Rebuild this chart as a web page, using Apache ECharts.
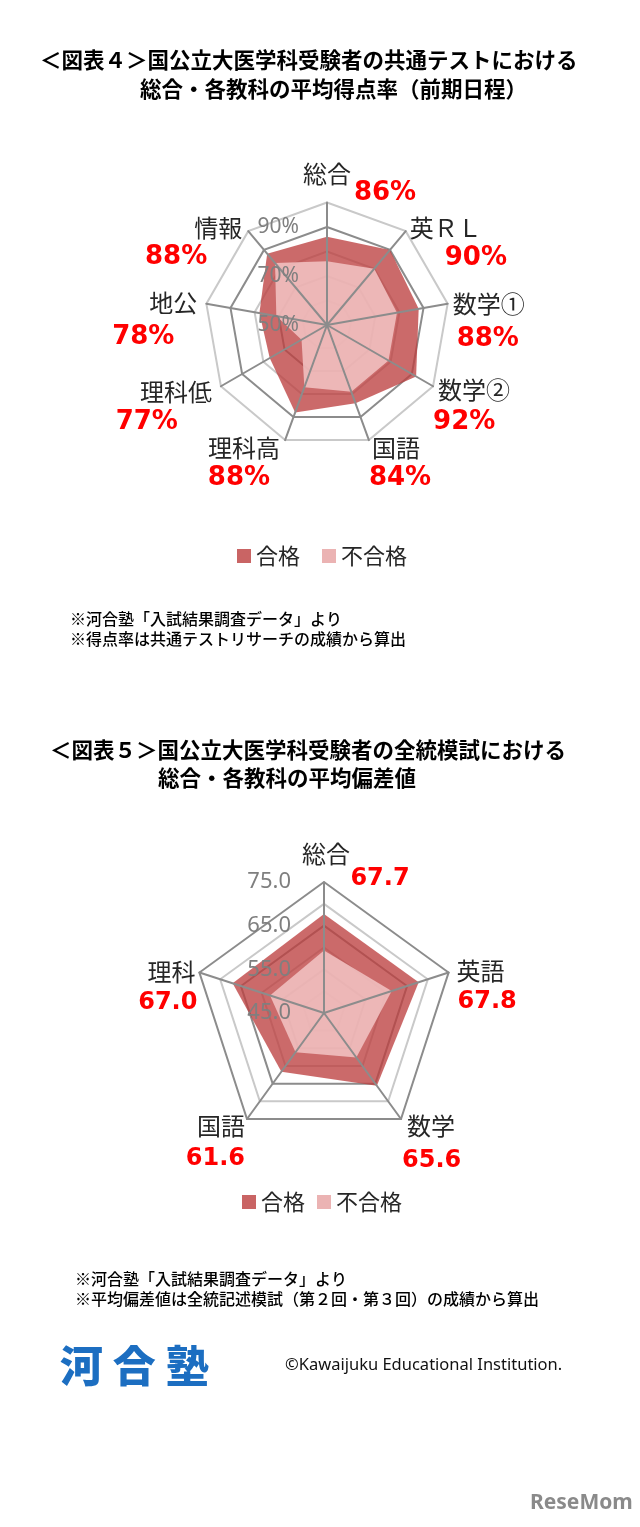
<!DOCTYPE html>
<html><head><meta charset="utf-8">
<script src="https://cdn.jsdelivr.net/npm/echarts@6/dist/echarts.min.js"></script>
<style>html,body{margin:0;padding:0;background:#fff}#c{width:640px;height:1527px}</style>
</head><body><div id="c"></div>
<script>
// ---- data ----
const cats1 = ['総合','英ＲＬ','数学①','数学②','国語','理科高','理科低','地公','情報'];
const pass1 = [86, 90, 88, 92, 84, 88, 77, 78, 88];
const fail1 = [76, 80, 79, 79, 79, 77, 62, 71, 83];
const ticks1 = [50, 70, 90];
const cats2 = ['総合','英語','数学','国語','理科'];
const pass2 = [67.7, 67.8, 65.6, 61.6, 67.0];
const fail2 = [59.3, 61.3, 57.6, 56.1, 58.0];
const ticks2 = [45, 55, 65, 75];
const seriesNames = ['合格','不合格'];

// ---- label layout (style only): [name dx, name dy, value dx, value dy] ----
const lay1 = [[0,16.5,58,5.5],[4,12,39,12],[5,15,9,21],[5,19,0,21],[3,23,0,23],[-5,23,-15,23],[-9,21,-43,21],[-9,14,-32,19],[-6,12,-41,11]];
const lay2 = [[2,17,56,12],[8,13.5,9,14.5],[6,22,1,27],[-2,22,-2,25],[-4,14.5,-2,15.5]];

const CJK = '"Noto Sans CJK JP","Noto Sans",sans-serif';
const darkArea = 'rgba(188,64,64,0.78)';
const lightArea = 'rgba(242,196,196,0.86)';
const darkLeg = '#C96464';
const lightLeg = '#EBB3B3';

function order(n){ const o=[0]; for(let i=n-1;i>=1;i--) o.push(i); return o; }
function pad(align, dx, dy){
  let l=0,r=0;
  if(align==='center'){ if(dx>0) l=2*dx; else r=-2*dx; }
  else if(align==='left'){ if(dx>0) l=dx; }
  else { if(dx<0) r=-dx; }
  const t = dy>0?2*dy:0, b = dy<0?-2*dy:0;
  return [t,r,b,l];
}
function alignOf(k,n){ const th=360*k/n; if(th===0||th===180) return 'center'; return th<180?'left':'right'; }
function buildRich(lay, nFont, vFont){
  const rich={}; const n=lay.length;
  lay.forEach((l,k)=>{
    const a=alignOf(k,n);
    rich['n'+k]={fontSize:nFont,lineHeight:30,color:'#262626',fontFamily:CJK,padding:pad(a,l[0],l[1])};
    rich['v'+k]={fontSize:vFont,lineHeight:30,color:'#FF0000',fontWeight:'bold',fontFamily:'"DejaVu Sans",sans-serif',padding:pad(a,l[2],l[3])};
  });
  return rich;
}

const o1 = order(cats1.length), o2 = order(cats2.length);
const gridDark = '#8c8c8c', gridLight = '#c9c9c9';

function baseRadar(center, radius, cats, ord, min, max, split, fmt, rich){
  return {
    center, radius, startAngle:90, shape:'polygon', splitNumber:split, z:0,
    axisNameGap:0,
    indicator: ord.map(k=>({name:cats[k], min, max})),
    axisName:{show:true, formatter:fmt, rich, color:'#262626'},
    splitLine:{lineStyle:{color:[gridDark,gridLight], width:2}},
    splitArea:{show:false},
    axisLine:{show:false}, axisTick:{show:false}, axisLabel:{show:false}
  };
}
function topRadar(center, radius, n, ord, min, max, split, labelFmt, fs, margin){
  return {
    center, radius, startAngle:90, shape:'polygon', splitNumber:split, z:5,
    indicator: ord.map((k,j)=>j===0?({name:'', min, max, axisLabel:{show:true}}):({name:'', min, max})),
    axisName:{show:false},
    splitLine:{show:false}, splitArea:{show:false},
    axisLine:{show:true, lineStyle:{color:gridDark, width:2}},
    axisTick:{show:false},
    axisLabel:{show:false, formatter:labelFmt, color:'#7f7f7f', fontSize:fs, margin, fontFamily:'"Noto Sans",sans-serif'}
  };
}

const fmt1 = (name)=>{ const k=cats1.indexOf(name); return '{n'+k+'|'+name+'}\n{v'+k+'|'+pass1[k]+'%}'; };
const fmt2 = (name)=>{ const k=cats2.indexOf(name); return '{n'+k+'|'+name+'}\n{v'+k+'|'+pass2[k].toFixed(1)+'}'; };
const lab1 = v => ticks1.indexOf(Math.round(v))>=0 ? Math.round(v)+'%' : '';
const lab2 = v => ticks2.indexOf(Math.round(v))>=0 ? Number(v).toFixed(1) : '';

const titleStyle = {fontSize:21.5, fontWeight:'bold', color:'#000', fontFamily:CJK};
const noteStyle = {fontSize:16, fontWeight:500, color:'#000', fontFamily:CJK};
function T(text, left, top, style){ return {text, left, top, padding:0, textStyle:style}; }

const option = {
  backgroundColor:'#fff',
  animation:false,
  title:[
    T('＜図表４＞国公立大医学科受験者の共通テストにおける', 40, 49, titleStyle),
    T('総合・各教科の平均得点率（前期日程）', 140, 78, titleStyle),
    T('※河合塾「入試結果調査データ」より', 70, 611, noteStyle),
    T('※得点率は共通テストリサーチの成績から算出', 70, 631, noteStyle),
    T('＜図表５＞国公立大医学科受験者の全統模試における', 50, 739, titleStyle),
    T('総合・各教科の平均偏差値', 158, 767, titleStyle),
    T('※河合塾「入試結果調査データ」より', 75, 1271, noteStyle),
    T('※平均偏差値は全統記述模試（第２回・第３回）の成績から算出', 75, 1291, noteStyle),
    T('河 合 塾', 60, 1344, {fontSize:43, fontWeight:900, color:'#1C6EC1', fontFamily:CJK}),
    T('©Kawaijuku Educational Institution.', 285, 1357, {fontSize:16.5, fontWeight:'normal', color:'#111', fontFamily:'"Noto Sans",sans-serif'}),
    T('ReseMom', 530, 1493, {fontSize:21, fontWeight:'bold', color:'#8a8a8a', fontFamily:'"Noto Sans",sans-serif'})
  ],
  legend:[
    {data:seriesNames, left:232, top:540, itemWidth:14, itemHeight:14, itemGap:22, icon:'rect', selectedMode:false,
     textStyle:{fontSize:22, color:'#262626', fontFamily:CJK}},
    {data:seriesNames, left:237, top:1186, itemWidth:14, itemHeight:14, itemGap:12, icon:'rect', selectedMode:false,
     textStyle:{fontSize:22, color:'#262626', fontFamily:CJK}}
  ],
  radar:[
    baseRadar([327,325], 122.5, cats1, o1, 50, 100, 5, fmt1, buildRich(lay1, 24, 26)),
    topRadar([327,325], 122.5, cats1.length, o1, 50, 100, 5, lab1, 21, 28),
    baseRadar([324,1013], 131, cats2, o2, 45, 75, 6, fmt2, buildRich(lay2, 24, 24)),
    topRadar([324,1013], 131, cats2.length, o2, 45, 75, 6, lab2, 22, 33)
  ],
  series:[
    {type:'radar', radarIndex:0, symbol:'none', z:2, lineStyle:{width:0, opacity:0},
     data:[
       {name:seriesNames[0], value:o1.map(k=>pass1[k]), itemStyle:{color:darkLeg}, areaStyle:{color:darkArea, opacity:1}},
       {name:seriesNames[1], value:o1.map(k=>fail1[k]), itemStyle:{color:lightLeg}, areaStyle:{color:lightArea, opacity:1}}
     ]},
    {type:'radar', radarIndex:2, symbol:'none', z:2, lineStyle:{width:0, opacity:0},
     data:[
       {name:seriesNames[0], value:o2.map(k=>pass2[k]), itemStyle:{color:darkLeg}, areaStyle:{color:darkArea, opacity:1}},
       {name:seriesNames[1], value:o2.map(k=>fail2[k]), itemStyle:{color:lightLeg}, areaStyle:{color:lightArea, opacity:1}}
     ]}
  ]
};
const chart = echarts.init(document.getElementById('c'), null, {renderer:'canvas'});
chart.setOption(option);
</script></body></html>
